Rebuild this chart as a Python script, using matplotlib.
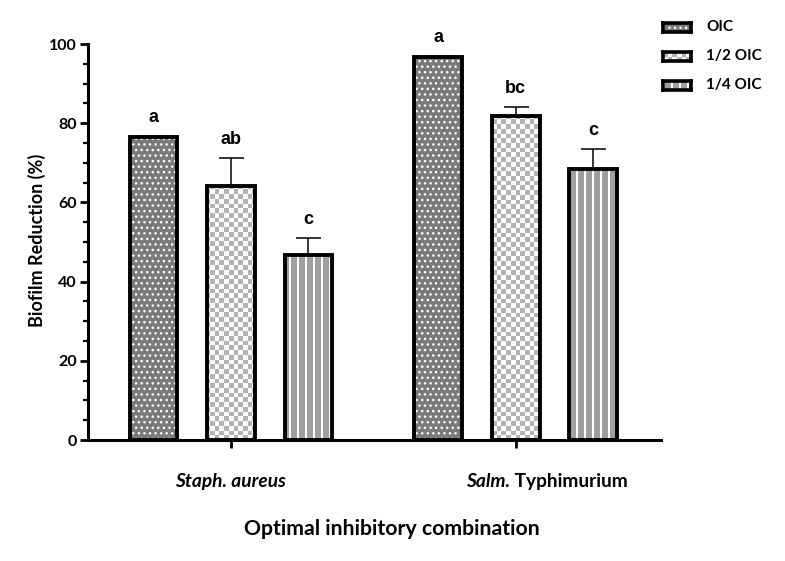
import numpy as np
import matplotlib
matplotlib.use("Agg")
import matplotlib.pyplot as plt
from matplotlib.colors import ListedColormap
from matplotlib.patches import Rectangle

# ---- data ----
groups = ["Staph. aureus", "Salm. Typhimurium"]
treatments = ["OIC", "1/2 OIC", "1/4 OIC"]
means = {
    "OIC":     [76.5, 96.7],
    "1/2 OIC": [64.2, 81.8],
    "1/4 OIC": [46.7, 68.5],
}
errs = {
    "OIC":     [0.3, 0.3],
    "1/2 OIC": [7.0, 2.4],
    "1/4 OIC": [4.3, 5.0],
}
letters = {
    "OIC":     ["a", "a"],
    "1/2 OIC": ["ab", "bc"],
    "1/4 OIC": ["c", "c"],
}
yticks = [0, 20, 40, 60, 80, 100]

# ---- style ----
FONT = "Lato"
plt.rcParams["font.family"] = [FONT, "DejaVu Sans"]
plt.rcParams["hatch.linewidth"] = 1.0

styles = {
    "OIC":     dict(face="#7a7a7a", hatch="...", pattern=None),
    "1/2 OIC": dict(face="white", hatch=None, pattern="checker"),
    "1/4 OIC": dict(face="#a0a0a0", hatch=None, pattern="stripes"),
}
checker_cmap = ListedColormap(["white", "#b3b3b3"])
stripe_cmap = ListedColormap(["#a0a0a0", "white"])
offsets = [-0.272, 0.0, 0.272]
bar_w = 0.168
edge_lw = 2.8

fig = plt.figure(figsize=(7.85, 5.61), dpi=100)
ax = fig.add_axes([88/785, 1-440/561, (661-88)/785, (440-44)/561])
xlim = (-0.502, 1.51)
ax.set_xlim(*xlim)
ax.set_ylim(0, 100)

# pattern images covering the axes (clipped to bars)
ax_w_px, ax_h_px = 661-88, 440-44
sq = 4.7
nc, nr = int(round(ax_w_px/sq)), int(round(ax_h_px/sq))
chk = (np.indices((nr, nc)).sum(axis=0) % 2).astype(float)
cols = np.arange(ax_w_px)
stripes = np.tile(((cols % 8) < 2).astype(float), (4, 1))
patterns = {"checker": (chk, checker_cmap), "stripes": (stripes, stripe_cmap)}

x = np.arange(len(groups))
for t, off in zip(treatments, offsets):
    st = styles[t]
    pos = x + off
    face = ax.bar(pos, means[t], bar_w, color=st["face"], edgecolor="white",
                  linewidth=0, hatch=st["hatch"], zorder=1)
    if st["pattern"]:
        arr, cm = patterns[st["pattern"]]
        for rect in face.patches:
            im = ax.imshow(arr, cmap=cm, extent=(xlim[0], xlim[1], 0, 100),
                           aspect="auto", interpolation="nearest", origin="lower",
                           zorder=1.2, vmin=0, vmax=1)
            im.set_clip_path(rect)
    ax.errorbar(pos, means[t], yerr=[np.zeros(len(pos)), errs[t]], fmt="none",
                ecolor="black", elinewidth=1.1, capsize=9, capthick=1.1, zorder=1.5)
    ax.bar(pos, means[t], bar_w, fill=False, edgecolor="black",
           linewidth=edge_lw, zorder=2)
    for xi, m, e, lab in zip(pos, means[t], errs[t], letters[t]):
        ax.annotate(lab, xy=(xi, m + e), xytext=(0, 10), textcoords="offset points",
                    ha="center", va="baseline", fontsize=13, fontweight="bold",
                    family=["Liberation Sans", "DejaVu Sans"])

ax.set_xlim(*xlim)
ax.set_ylim(0, 100)

# axes styling
for s in ["top", "right"]:
    ax.spines[s].set_visible(False)
for s in ["left", "bottom"]:
    ax.spines[s].set_linewidth(2.2)
ax.set_yticks(yticks)
ax.set_yticklabels([str(v) for v in yticks], fontsize=11.5, fontweight="bold")
ax.set_yticks(np.arange(0, 101, 5), minor=True)
ax.tick_params(axis="y", which="major", length=6, width=2, direction="out", pad=2)
ax.tick_params(axis="y", which="minor", length=3.5, width=1.6, direction="out")
ax.set_xticks(x)
ax.set_xticklabels(["", ""])
ax.tick_params(axis="x", which="major", length=6, width=2, direction="out")

# x tick labels (mixed italic)
ax.annotate("Staph. aureus", xy=(x[0], 0), xycoords=("data", "axes fraction"),
            xytext=(0, -34), textcoords="offset points", ha="center", va="baseline",
            fontsize=13.8, fontweight="bold", fontstyle="italic")
t1 = ax.annotate("Salm.", xy=(x[1] - (517-467)/285, 0), xycoords=("data", "axes fraction"),
                 xytext=(0, -34), textcoords="offset points", ha="left", va="baseline",
                 fontsize=13.8, fontweight="bold", fontstyle="italic")
ax.annotate(" Typhimurium", xy=(1, 0), xycoords=t1, ha="left", va="bottom",
            fontsize=13.8, fontweight="bold")

# axis labels
fig.text(37/785, 1-240/561, "Biofilm Reduction (%)", rotation=90, ha="center",
         va="center", fontsize=13, fontweight="bold")
fig.text(392/785, 1-535/561, "Optimal inhibitory combination", ha="center",
         va="baseline", fontsize=15.3, fontweight="bold")

# legend (manual swatches)
leg_rows = [27, 56, 85]
for t, yc in zip(treatments, leg_rows):
    st = styles[t]
    sw = fig.add_axes([663/785, 1-(yc+4.5)/561, 28/785, 9/561])
    sw.set_xlim(0, 1); sw.set_ylim(0, 1)
    sw.set_xticks([]); sw.set_yticks([])
    r = Rectangle((0, 0), 1, 1, facecolor=st["face"], edgecolor="white",
                  linewidth=0, hatch=st["hatch"], transform=sw.transAxes, zorder=1)
    sw.add_patch(r)
    if st["pattern"] == "checker":
        sc = (np.indices((2, 6)).sum(axis=0) % 2).astype(float)
        sw.imshow(sc, cmap=checker_cmap, extent=(0, 1, 0, 1), aspect="auto",
                  interpolation="nearest", origin="lower", zorder=2, vmin=0, vmax=1)
    elif st["pattern"] == "stripes":
        ss = ((np.arange(28) % 8) < 2).astype(float)[None, :]
        sw.imshow(ss, cmap=stripe_cmap, extent=(0, 1, 0, 1), aspect="auto",
                  interpolation="nearest", origin="lower", zorder=2, vmin=0, vmax=1)
    sw.set_xlim(0, 1); sw.set_ylim(0, 1)
    for s in sw.spines.values():
        s.set_linewidth(2.6)
        s.set_color("black")
        s.set_zorder(3)
    fig.text(706/785, 1-yc/561, t, ha="left", va="center", fontsize=11,
             fontweight="bold")

fig.savefig("out.png", dpi=100)
